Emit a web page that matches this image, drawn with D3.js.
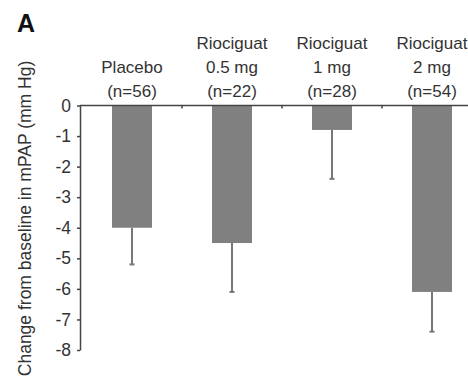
<!DOCTYPE html>
<html>
<head>
<meta charset="utf-8">
<script src="https://cdn.jsdelivr.net/npm/d3@7"></script>
<style>
  html, body { margin: 0; padding: 0; background: #fff; }
  svg { display: block; font-family: "Liberation Sans", Arial, sans-serif; }
</style>
</head>
<body>
<svg id="chart" width="468" height="387"></svg>
<script>
// Change from baseline in mPAP by treatment group
const groups = ["Placebo", "Riociguat 0.5 mg", "Riociguat 1 mg", "Riociguat 2 mg"];
const labelLines = [
  ["Placebo", "(n=56)"],
  ["Riociguat", "0.5 mg", "(n=22)"],
  ["Riociguat", "1 mg", "(n=28)"],
  ["Riociguat", "2 mg", "(n=54)"]
];
const meanChange = [-4.0, -4.5, -0.8, -6.1];
const errorSize = [1.2, 1.6, 1.6, 1.3];
const yTicks = [0, -1, -2, -3, -4, -5, -6, -7, -8];

const svg = d3.select("#chart");
const textColor = "#333";
const barColor = "#808080";

const x = d3.scaleBand().domain(groups).range([82, 482]).paddingInner(0.6).paddingOuter(0.3);
const y = d3.scaleLinear().domain([-8, 0]).range([350, 105.5]);

// Bars hang down from zero
svg.append("g").selectAll("rect")
  .data(groups)
  .join("rect")
  .attr("x", d => x(d))
  .attr("width", x.bandwidth())
  .attr("y", y(0))
  .attr("height", (d, i) => y(meanChange[i]) - y(0))
  .attr("fill", barColor);

// Error bars extend downward
const eb = svg.append("g").attr("stroke", "#777").attr("stroke-width", 2);
groups.forEach((g, i) => {
  const cx = x(g) + x.bandwidth() / 2;
  eb.append("line")
    .attr("x1", cx).attr("x2", cx)
    .attr("y1", y(meanChange[i])).attr("y2", y(meanChange[i] - errorSize[i]));
  eb.append("line")
    .attr("x1", cx - 2.5).attr("x2", cx + 2.5)
    .attr("y1", y(meanChange[i] - errorSize[i])).attr("y2", y(meanChange[i] - errorSize[i]));
});

// Y axis
const yAxis = svg.append("g")
  .attr("transform", "translate(80,0)")
  .call(d3.axisLeft(y).tickValues(yTicks).tickFormat(d3.format("d")).tickSize(3).tickPadding(6).tickSizeOuter(0));
yAxis.select(".domain").attr("stroke", "#444").attr("stroke-width", 1.5);
yAxis.selectAll(".tick line").attr("stroke", "#444").attr("stroke-width", 1.5);
yAxis.selectAll(".tick text")
  .attr("fill", textColor)
  .style("font-size", "17.5px")
  .text(d => d === 0 ? "0" : "-" + Math.abs(d));

// X axis along zero, with ticks between groups
const xAxisLine = svg.append("g");
xAxisLine.append("line")
  .attr("x1", 80).attr("x2", 482)
  .attr("y1", y(0)).attr("y2", y(0))
  .attr("stroke", "#444").attr("stroke-width", 1.5);
const step = x.step();
groups.slice(1).forEach(g => {
  const bx = x(g) - (step - x.bandwidth()) / 2;
  xAxisLine.append("line")
    .attr("x1", bx).attr("x2", bx)
    .attr("y1", y(0)).attr("y2", y(0) + 3)
    .attr("stroke", "#444").attr("stroke-width", 1.5);
});

// Group labels above the axis
const lineGap = 24;
const lastBaseline = 97;
groups.forEach((g, i) => {
  const cx = x(g) + x.bandwidth() / 2;
  const lines = labelLines[i];
  const t = svg.append("text")
    .attr("text-anchor", "middle")
    .attr("fill", textColor)
    .style("font-size", "17px");
  lines.forEach((ln, j) => {
    t.append("tspan")
      .attr("x", cx)
      .attr("y", lastBaseline - (lines.length - 1 - j) * lineGap)
      .text(ln);
  });
});

// Y axis title
svg.append("text")
  .attr("transform", "translate(31,218.5) rotate(-90)")
  .attr("text-anchor", "middle")
  .attr("fill", textColor)
  .style("font-size", "17.5px")
  .text("Change from baseline in mPAP (mm Hg)");

// Panel letter
svg.append("text")
  .attr("x", 17).attr("y", 32)
  .attr("fill", "#111")
  .style("font-size", "25px")
  .style("font-weight", "bold")
  .text("A");
</script>
</body>
</html>
